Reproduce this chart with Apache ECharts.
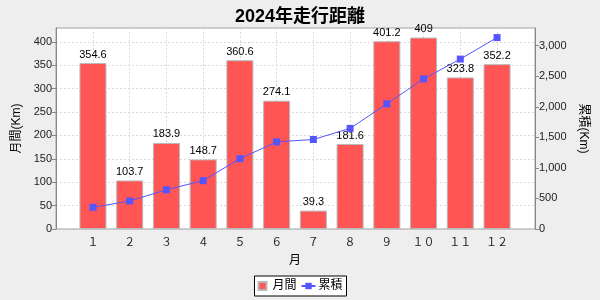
<!DOCTYPE html>
<html><head><meta charset="utf-8">
<script src="https://cdn.jsdelivr.net/npm/echarts@6/dist/echarts.min.js"></script>
<style>html,body{margin:0;padding:0;background:#eeeeee}#c{width:600px;height:300px}</style>
</head><body><div id="c"></div>
<script>
const categories = ['１','２','３','４','５','６','７','８','９','１０','１１','１２'];
const monthly = [354.6, 103.7, 183.9, 148.7, 360.6, 274.1, 39.3, 181.6, 401.2, 409, 323.8, 352.2];
const cumulative = [354.6, 458.3, 642.2, 790.9, 1151.5, 1425.6, 1464.9, 1646.5, 2047.7, 2456.7, 2780.5, 3132.7];
const leftMax = 429.45, rightMax = 3289.3;

const FONT = "'Liberation Sans','Noto Sans CJK JP',sans-serif";
const gridLine = {show:true, lineStyle:{color:'#dadada', type:[2,2], width:1}};
const T = 28, B = 71;
const chart = echarts.init(document.getElementById('c'), null, {renderer:'canvas'});
chart.setOption({
  backgroundColor:'#eeeeee',
  animation:false,
  textStyle:{fontFamily:FONT},
  title:{text:'2024年走行距離', left:'center', top:3,
    textStyle:{fontSize:18, fontWeight:'bold', color:'#000', fontFamily:FONT}},
  legend:{data:[{name:'月間', icon:'path://M0,0L10,0L10,10L0,10Z'},{name:'累積'}],
    left:'center', top:276, borderColor:'#000', borderWidth:1, padding:[4,4,4,3],
    itemWidth:14, itemHeight:8, itemGap:4, backgroundColor:'#fff',
    textStyle:{fontSize:12, color:'#000', fontFamily:FONT, padding:[0,0,0,-2]}},
  grid:[
    {left:56, right:65, top:T, bottom:B, show:true, backgroundColor:'#fff', borderColor:'#a0a0a0', borderWidth:1},
    {left:74.6, right:84.6, top:T, bottom:B},
    {left:93, right:103, top:T, bottom:B}
  ],
  xAxis:[
    {gridIndex:0, type:'value', min:0, max:1, axisLine:{show:false}, axisTick:{show:false}, axisLabel:{show:false}, splitLine:{show:false}},
    {gridIndex:1, type:'category', data:categories, axisLine:{show:false}, axisTick:{show:false},
      axisLabel:{color:'#222', fontSize:11, margin:7, fontFamily:"'Noto Sans CJK JP',sans-serif"},
      name:'月', nameLocation:'middle', nameGap:24, nameTextStyle:{color:'#000', fontSize:12, fontFamily:"'Noto Sans CJK JP',sans-serif"}},
    {gridIndex:2, type:'value', min:0, max:11, interval:1, axisLine:{show:false}, axisTick:{show:false}, axisLabel:{show:false},
      splitLine:Object.assign({showMinLine:true, showMaxLine:true}, gridLine)}
  ],
  yAxis:[
    {gridIndex:0, type:'value', min:0, max:leftMax, interval:50, axisLine:{show:false}, axisTick:{show:false}, axisLabel:{show:false},
      splitLine:Object.assign({showMinLine:false, showMaxLine:false}, gridLine)},
    {gridIndex:1, type:'value', min:0, max:leftMax, interval:50, position:'left', offset:18.6,
      axisLine:{show:true, lineStyle:{color:'#888'}}, axisTick:{show:true, length:4, lineStyle:{color:'#888'}},
      axisLabel:{color:'#222', fontSize:11, margin:4, showMaxLabel:false}, splitLine:{show:false},
      name:'月間(Km)', nameLocation:'middle', nameGap:28, nameTextStyle:{color:'#000', fontSize:12}},
    {gridIndex:1, type:'value', min:0, max:rightMax, interval:500, position:'right', offset:19.6,
      axisLine:{show:true, lineStyle:{color:'#888'}}, axisTick:{show:true, length:4, lineStyle:{color:'#888'}},
      axisLabel:{color:'#222', fontSize:11, margin:4, showMaxLabel:false}, splitLine:{show:false},
      name:'累積(Km)', nameLocation:'middle', nameGap:38, nameRotate:-90, nameTextStyle:{color:'#000', fontSize:12}},
    {gridIndex:2, type:'value', min:0, max:1, show:false}
  ],
  series:[
    {name:'月間', type:'bar', xAxisIndex:1, yAxisIndex:1, data:monthly, barWidth:27,
      itemStyle:{color:'#ff5555', borderColor:'#b8b8b8', borderWidth:1},
      label:{show:true, position:'top', distance:3, color:'#000', fontSize:11}},
    {name:'累積', type:'line', xAxisIndex:1, yAxisIndex:2, data:cumulative, symbol:'rect', symbolSize:7,
      itemStyle:{color:'#5555ff'}, lineStyle:{color:'#5555ff', width:1}}
  ]
});
</script></body></html>
